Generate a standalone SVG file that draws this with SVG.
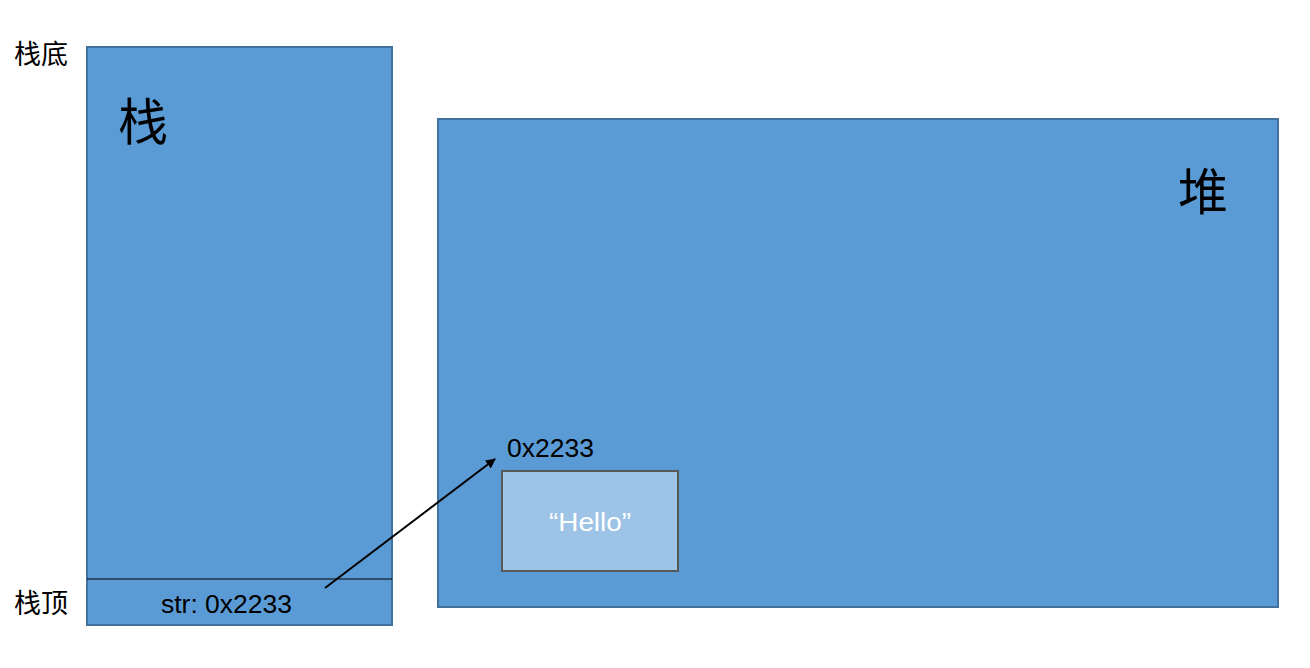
<svg xmlns="http://www.w3.org/2000/svg" width="1310" height="668" viewBox="0 0 1310 668">
<style>
.t{font-family:"Liberation Sans","Noto Sans CJK SC",sans-serif;fill:#000}
.mem{fill:#5B9BD5;stroke:#41719C;stroke-width:2}
</style>
<defs>
<marker id="ah" viewBox="0 0 10 10" refX="9" refY="5" markerWidth="10" markerHeight="10" markerUnits="userSpaceOnUse" orient="auto"><path d="M0,0 L10,5 L0,10 z" fill="#000"/></marker>
</defs>
<rect width="1310" height="668" fill="#fff"/>
<g id="stack">
<rect class="mem" x="87" y="47" width="305" height="578"/>
<line x1="87" y1="579" x2="392" y2="579" stroke="#000" stroke-width="1.2"/>
<text class="t" x="118" y="140" font-size="50">栈</text>
<text class="t" x="161" y="613" font-size="26" textLength="131" lengthAdjust="spacingAndGlyphs">str: 0x2233</text>
</g>
<g id="labels">
<text class="t" x="14" y="64" font-size="27">栈底</text>
<text class="t" x="14" y="613" font-size="27">栈顶</text>
</g>
<g id="heap">
<rect class="mem" x="438" y="119" width="840" height="488"/>
<text class="t" x="1178" y="210" font-size="50">堆</text>
<text class="t" x="507" y="457" font-size="26" textLength="87" lengthAdjust="spacingAndGlyphs">0x2233</text>
</g>
<g id="hello">
<rect x="502" y="471" width="176" height="100" fill="#9DC3E6" stroke="#595959" stroke-width="2"/>
<text class="t" x="549" y="531" font-size="26" textLength="82" lengthAdjust="spacingAndGlyphs" style="fill:#fff">“Hello”</text>
</g>
<g id="connectors">
<line x1="325" y1="588" x2="495" y2="459" stroke="#000" stroke-width="2" marker-end="url(#ah)"/>
</g>
</svg>
